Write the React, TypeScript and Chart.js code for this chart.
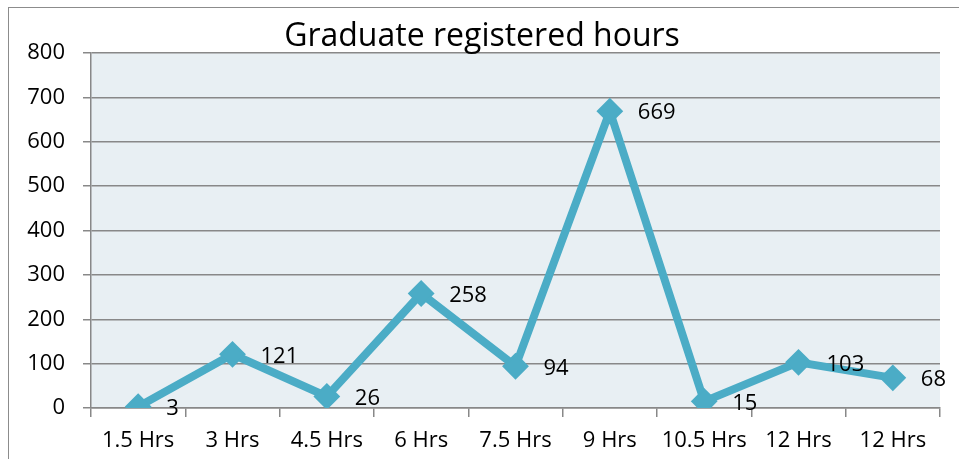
import React, { useEffect, useRef } from "react";
import { Chart, registerables } from "chart.js";

Chart.register(...registerables);

const TITLE = "Graduate registered hours";
const categories = ["1.5 Hrs", "3 Hrs", "4.5 Hrs", "6 Hrs", "7.5 Hrs", "9 Hrs", "10.5 Hrs", "12 Hrs", "12 Hrs"];
const values = [3, 121, 26, 258, 94, 669, 15, 103, 68];
const yMin = 0;
const yMax = 800;
const yStep = 100;

const FONT = "'Open Sans', 'Liberation Sans', sans-serif";
const LINE_COLOR = "#4bacc6";
const GRID_COLOR = "#888888";

const framePlugin = {
  id: "frameAndBg",
  beforeDraw(chart: any) {
    const { ctx, chartArea } = chart;
    ctx.save();
    ctx.fillStyle = "#ffffff";
    ctx.fillRect(0, 0, chart.width, chart.height);
    ctx.strokeStyle = "#8c8c8c";
    ctx.lineWidth = 1;
    ctx.strokeRect(8.5, 7.5, 3000, 3000);
    ctx.fillStyle = "#e8eff3";
    ctx.fillRect(chartArea.left, chartArea.top, chartArea.right - chartArea.left, chartArea.bottom - chartArea.top);
    ctx.restore();
  },
};

const labelPlugin = {
  id: "pointLabels",
  afterDatasetsDraw(chart: any) {
    const { ctx } = chart;
    const meta = chart.getDatasetMeta(0);
    ctx.save();
    ctx.font = `22px ${FONT}`;
    ctx.fillStyle = "#000000";
    ctx.textAlign = "left";
    ctx.textBaseline = "middle";
    meta.data.forEach((pt: any, i: number) => {
      ctx.fillText(String(values[i]), pt.x + 28, pt.y + 2);
    });
    ctx.restore();
  },
};

export default function App() {
  const ref = useRef<HTMLCanvasElement | null>(null);
  useEffect(() => {
    if (!ref.current) return;
    const chart = new Chart(ref.current, {
      type: "line",
      data: {
        labels: categories,
        datasets: [
          {
            data: values,
            borderColor: LINE_COLOR,
            backgroundColor: LINE_COLOR,
            borderWidth: 8,
            pointStyle: "rectRot",
            pointRadius: 12,
            pointBorderWidth: 2,
            pointBackgroundColor: LINE_COLOR,
            pointBorderColor: LINE_COLOR,
            tension: 0,
            borderJoinStyle: "miter",
          } as any,
        ],
      },
      options: {
        responsive: false,
        animation: false,
        devicePixelRatio: 1,
        layout: { padding: { left: 24, right: 19, top: 0, bottom: 0 } },
        plugins: {
          legend: { display: false },
          tooltip: { enabled: false },
          title: {
            display: true,
            text: TITLE,
            color: "#000000",
            font: { family: FONT, size: 32, weight: "normal", lineHeight: 0.9375 },
            padding: { top: 22, bottom: 1 },
          },
        },
        scales: {
          x: {
            offset: true,
            grid: {
              offset: true,
              drawOnChartArea: false,
              drawTicks: true,
              tickLength: 9,
              color: GRID_COLOR,
              lineWidth: 1.5,
            },
            border: { display: true, color: GRID_COLOR, width: 1.5 },
            ticks: {
              color: "#000000",
              font: { family: FONT, size: 22 },
              padding: 11,
              maxRotation: 0,
              autoSkip: false,
            },
            afterFit(scale: any) {
              scale.height = 51;
            },
          },
          y: {
            min: yMin,
            max: yMax,
            ticks: {
              stepSize: yStep,
              color: "#000000",
              font: { family: FONT, size: 22 },
              padding: 18,
            },
            grid: {
              color: GRID_COLOR,
              lineWidth: 1.5,
              drawTicks: true,
              tickLength: 8,
            },
            border: { display: true, color: GRID_COLOR, width: 1.5 },
            afterFit(scale: any) {
              scale.width = 67;
            },
          },
        },
      },
      plugins: [framePlugin, labelPlugin],
    });
    return () => chart.destroy();
  }, []);
  return (
    <div style={{ position: "fixed", left: 0, top: 0, width: 959, height: 459, background: "#fff" }}>
      <canvas ref={ref} width={959} height={459} style={{ display: "block", width: 959, height: 459 }} />
    </div>
  );
}
